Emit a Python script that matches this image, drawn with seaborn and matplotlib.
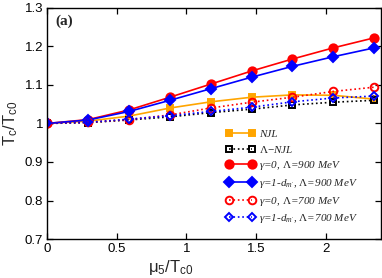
import pandas as pd
import seaborn as sns
import matplotlib.pyplot as plt
from matplotlib.ticker import FixedLocator, FixedFormatter

# mu5 / Tc0 grid
mu5 = [0.0, 0.294, 0.587, 0.881, 1.174, 1.468, 1.761, 2.055, 2.349]

# Tc / Tc0 for each model
njl = [1.0, 1.006, 1.019, 1.040, 1.056, 1.068, 1.074, 1.073, 1.063]
lam_njl = [1.0, 1.002, 1.009, 1.017, 1.028, 1.037, 1.048, 1.055, 1.060]
g0_900 = [1.0, 1.010, 1.035, 1.068, 1.102, 1.136, 1.167, 1.196, 1.222]
g1_900 = [1.0, 1.009, 1.031, 1.060, 1.090, 1.120, 1.148, 1.173, 1.196]
g0_700 = [1.0, 1.003, 1.010, 1.022, 1.040, 1.055, 1.068, 1.083, 1.094]
g1_700 = [1.0, 1.003, 1.011, 1.020, 1.031, 1.042, 1.056, 1.066, 1.071]

labels = [
    r"NJL",
    r"$\Lambda$$-$NJL",
    r"$\gamma$=0, $\Lambda$=900 MeV",
    r"$\gamma$=1-d$_{m'}$, $\Lambda$=900 MeV",
    r"$\gamma$=0, $\Lambda$=700 MeV",
    r"$\gamma$=1-d$_{m'}$, $\Lambda$=700 MeV",
]

sns.set_theme(style="ticks")
plt.rcParams["font.family"] = ["Liberation Sans", "DejaVu Sans"]
plt.rcParams["mathtext.fontset"] = "custom"
plt.rcParams["mathtext.rm"] = "Liberation Serif"
plt.rcParams["mathtext.it"] = "Liberation Serif:italic"
plt.rcParams["mathtext.bf"] = "Liberation Serif:bold"

fig = plt.figure(figsize=(3.82, 2.78), dpi=100)
ax = fig.add_axes([0.124, 0.140, 0.874, 0.832])

# style per series: color, marker, filled, linestyle, markersize
styles = [
    ("#ffa500", "s", True, "-", 5.0),
    ("black", "s", False, ":", 4.5),
    ("red", "o", True, "-", 6.0),
    ("blue", "D", True, "-", 4.8),
    ("red", "o", False, ":", 5.5),
    ("blue", "D", False, ":", 4.5),
]
series = [njl, lam_njl, g0_900, g1_900, g0_700, g1_700]

for vals, lab, (col, mk, filled, ls, ms) in zip(series, labels, styles):
    df = pd.DataFrame({"mu5": mu5, "tc": vals})
    sns.lineplot(
        data=df, x="mu5", y="tc", ax=ax,
        color=col, marker=mk, linestyle=ls, linewidth=1.2,
        markersize=ms, markeredgewidth=1.4,
        markerfacecolor=col if filled else "none",
        markeredgecolor=col, label=lab,
    )

ax.set_xlim(0, 2.4)
ax.set_ylim(0.7, 1.3)
ax.xaxis.set_major_locator(FixedLocator([0, 0.5, 1, 1.5, 2]))
ax.xaxis.set_major_formatter(FixedFormatter(["0", "0.5", "1", "1.5", "2"]))
ax.yaxis.set_major_locator(FixedLocator([0.7, 0.8, 0.9, 1.0, 1.1, 1.2, 1.3]))
ax.yaxis.set_major_formatter(FixedFormatter(["0.7", "0.8", "0.9", "1", "1.1", "1.2", "1.3"]))
ax.tick_params(direction="in", top=True, right=True, length=4, width=0.9,
               labelsize=9.5, pad=3, colors="black")
for s in ax.spines.values():
    s.set_linewidth(1.0)
    s.set_color("black")

ax.set_xlabel(r"$\mathregular{\mu_5/T_{c0}}$", fontsize=12, labelpad=2)
ax.set_ylabel(r"$\mathregular{T_c/T_{c0}}$", fontsize=12, labelpad=3)
ax.xaxis.set_label_coords(0.37, -0.08)

ax.text(0.025, 0.94, "(a)", transform=ax.transAxes, fontsize=11,
        fontweight="bold", family="Liberation Serif", va="center", ha="left")

leg = ax.legend(
    loc="upper left", bbox_to_anchor=(0.535, 0.475), frameon=False,
    prop={"family": "Liberation Serif", "style": "italic", "size": 8},
    numpoints=2, handlelength=2.6, handletextpad=0.4, labelspacing=0.42,
    borderpad=0, borderaxespad=0,
)

fig.savefig("out.png", dpi=100)
